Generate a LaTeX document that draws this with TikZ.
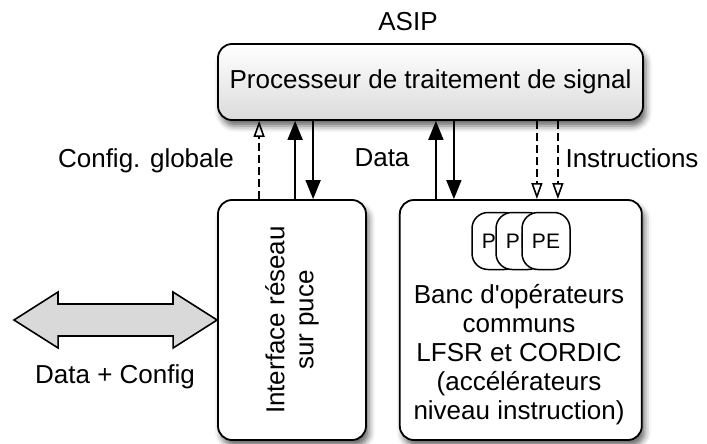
\documentclass[tikz,border=0pt]{standalone}
\usepackage{fontspec}
\setmainfont{Liberation Sans}[Ligatures=TeXOff]
\usepackage{tikz}
\usetikzlibrary{positioning,calc,arrows.meta,shadows.blur}
\tikzset{
  procBox/.style={
    rectangle,
    rounded corners=14pt,
    draw=black,
    line width=1.8pt,
    top color=white,
    bottom color=gray!28,
    minimum width=425pt,
    minimum height=76pt,
    blur shadow={shadow xshift=3pt, shadow yshift=-6pt, shadow blur radius=6pt, shadow opacity=60}
  },
  unitBox/.style={
    rectangle,
    rounded corners=14pt,
    draw=black,
    line width=1.8pt,
    fill=white,
    minimum height=240pt,
    blur shadow={shadow xshift=3pt, shadow yshift=-6pt, shadow blur radius=6pt, shadow opacity=60}
  },
  peBox/.style={
    rectangle,
    rounded corners=16pt,
    draw=black,
    line width=1.5pt,
    fill=white,
    inner sep=0pt,
    minimum width=48pt,
    minimum height=57pt,
    font=\fontsize{21}{23}\selectfont
  },
  dataArrow/.style={
    -{Triangle[length=19pt,width=15pt]},
    line width=1.7pt
  },
  ctrlArrow/.style={
    -{Triangle[open,length=16pt,width=11pt]},
    dash pattern=on 8pt off 4pt,
    line width=1.6pt
  },
  linkArrow/.style={
    draw=black,
    line width=1.6pt,
    fill=gray!30,
    line join=miter
  }
}

\begin{document}
\begin{tikzpicture}[
            x=1pt, y=-1pt,
            every node/.style={font=\fontsize{26}{29}\selectfont}
        ]
        \useasboundingbox (0,0) rectangle (707,444);

        \node[procBox] (asip) at (430.5,82) {Processeur de traitement de signal};
        \node (asipLbl) at (408,22) {ASIP};

        \node[unitBox, minimum width=148pt] (iface) at (292,320) {};
        \node[unitBox, minimum width=242pt, right=32pt of iface] (banc) {};

        \node[rotate=90, align=center] (ifaceTxt) at (iface.center) {Interface réseau\\sur puce};

        \node[peBox] (pe1) at (496,241) {PE};
        \node[peBox] (pe2) at (520,241) {PE};
        \node[peBox] (pe3) at (546,241) {PE};
        \node[align=center] (bancTxt) at (519,355) {Banc d'opérateurs\\communs\\LFSR et CORDIC\\(accélérateurs\\niveau instruction)};

        % liens ASIP <-> interface
        \draw[ctrlArrow] ([xshift=42pt]iface.north west) -- ([xshift=42pt]iface.north west |- asip.south);
        \draw[dataArrow] ([xshift=78pt]iface.north west) -- ([xshift=78pt]iface.north west |- asip.south);
        \draw[dataArrow] ([xshift=96pt]iface.north west |- asip.south) -- ([xshift=96pt]iface.north west);

        % liens ASIP <-> banc
        \draw[dataArrow] ([xshift=37pt]banc.north west) -- ([xshift=37pt]banc.north west |- asip.south);
        \draw[dataArrow] ([xshift=55pt]banc.north west |- asip.south) -- ([xshift=55pt]banc.north west);
        \draw[ctrlArrow] ([xshift=138pt]banc.north west |- asip.south) -- ([xshift=138pt]banc.north west);
        \draw[ctrlArrow] ([xshift=159pt]banc.north west |- asip.south) -- ([xshift=159pt]banc.north west);

        \node (cfgLbl) at (146,161) {Config. globale};
        \node (dataLbl) at (382,158) {Data};
        \node[anchor=west] (instrLbl) at (562,158) {Instructions};

        % lien externe
        \coordinate (ext) at (14,320);
        \draw[linkArrow] (ext) -- ++(44,-28) -- ++(0,12) -- ++(115,0) -- ++(0,-12) -- (iface.west)
            -- ++(-44,28) -- ++(0,-12) -- ++(-115,0) -- ++(0,12) -- cycle;
        \node (linkLbl) at (115,377) {Data + Config};

    \end{tikzpicture}
\end{document}
